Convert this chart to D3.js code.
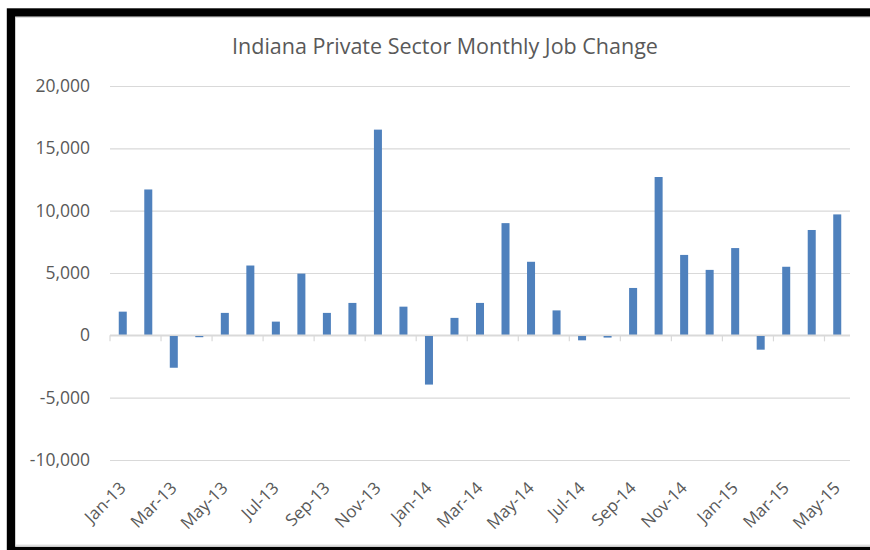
<!DOCTYPE html>
<html>
<head>
<meta charset="utf-8">
<script src="https://cdn.jsdelivr.net/npm/d3@7"></script>
<style>
  body { margin: 0; background: #fff; }
  text { font-family: "Open Sans", sans-serif; fill: #595959; }
</style>
</head>
<body>
<div id="container"></div>
<script>
const months = ["Jan-13","Feb-13","Mar-13","Apr-13","May-13","Jun-13","Jul-13","Aug-13","Sep-13","Oct-13","Nov-13","Dec-13",
                "Jan-14","Feb-14","Mar-14","Apr-14","May-14","Jun-14","Jul-14","Aug-14","Sep-14","Oct-14","Nov-14","Dec-14",
                "Jan-15","Feb-15","Mar-15","Apr-15","May-15"];
const jobChange = [1900, 11700, -2600, -150, 1800, 5600, 1100, 4950, 1800, 2600, 16500, 2300,
                   -3950, 1400, 2600, 9000, 5900, 2000, -400, -180, 3800, 12700, 6450, 5250,
                   7000, -1150, 5500, 8450, 9700];
const yTicks = [-10000, -5000, 0, 5000, 10000, 15000, 20000];
const title = "Indiana Private Sector Monthly Job Change";

const width = 870;
const height = 550;
const plotLeft = 110, plotRight = 850, plotTop = 86, plotBottom = 460;

const svg = d3.select("#container")
  .append("svg")
  .attr("width", width)
  .attr("height", height)

// frame
svg.append("rect")
  .attr("x", 11).attr("y", 12.5)
  .attr("width", 1000).attr("height", 538.5)
  .attr("fill", "#fff")
  .attr("stroke", "#000")
  .attr("stroke-width", 8.4)
svg.append("rect")
  .attr("x", 15.5).attr("y", 17.2)
  .attr("width", 1000).attr("height", 528)
  .attr("fill", "none")
  .attr("stroke", "#d0d0d0")
  .attr("stroke-width", 1)

const xScale = d3.scaleBand()
  .domain(months)
  .range([plotLeft, plotRight])
  .paddingInner(0.686)
  .paddingOuter(0.343)

const yScale = d3.scaleLinear()
  .domain([-10000, 20000])
  .range([plotBottom, plotTop])

const fmt = d3.format(",")

// gridlines + y labels
const yAxis = d3.axisLeft(yScale)
  .tickValues(yTicks)
  .tickSize(-(plotRight - plotLeft))
  .tickPadding(20)
  .tickFormat(d => fmt(d).replace("\u2212", "-"))

svg.append("g")
  .attr("transform", `translate(${plotLeft},0)`)
  .call(yAxis)
  .call(g => g.select(".domain").remove())
  .call(g => g.selectAll("line").attr("stroke", "#d9d9d9").attr("stroke-width", 1.2))
  .call(g => g.selectAll("text").style("font-size", "17.5px").attr("fill", "#595959"))

// bars
svg.selectAll("rect.bar")
  .data(jobChange)
  .enter()
  .append("rect")
  .attr("class", "bar")
  .attr("x", (d, i) => xScale(months[i]))
  .attr("y", d => yScale(Math.max(0, d)))
  .attr("width", xScale.bandwidth())
  .attr("height", d => Math.abs(yScale(d) - yScale(0)))
  .attr("fill", "#4f81bd")

// zero axis with tick marks every other month
const zeroY = yScale(0);
svg.append("line")
  .attr("x1", plotLeft).attr("x2", plotRight)
  .attr("y1", zeroY).attr("y2", zeroY)
  .attr("stroke", "#d9d9d9")
  .attr("stroke-width", 1.5)

const tickMonths = months.filter((m, i) => i % 2 === 0);
svg.selectAll("line.xtick")
  .data(tickMonths)
  .enter()
  .append("line")
  .attr("class", "xtick")
  .attr("x1", d => xScale(d) - xScale.step() * xScale.paddingInner() / 2)
  .attr("x2", d => xScale(d) - xScale.step() * xScale.paddingInner() / 2)
  .attr("y1", zeroY).attr("y2", zeroY + 6)
  .attr("stroke", "#d9d9d9")
  .attr("stroke-width", 1.2)

// x labels at the bottom of the plot
svg.selectAll("text.xlabel")
  .data(tickMonths)
  .enter()
  .append("text")
  .attr("class", "xlabel")
  .attr("text-anchor", "end")
  .attr("transform", d => `translate(${xScale(d) + xScale.bandwidth() / 2 + 4},489) rotate(-45)`)
  .style("font-size", "17px")
  .text(d => d)

svg.append("text")
  .attr("x", 445)
  .attr("y", 53.5)
  .attr("text-anchor", "middle")
  .style("font-size", "21.5px")
  .text(title)
</script>
</body>
</html>
